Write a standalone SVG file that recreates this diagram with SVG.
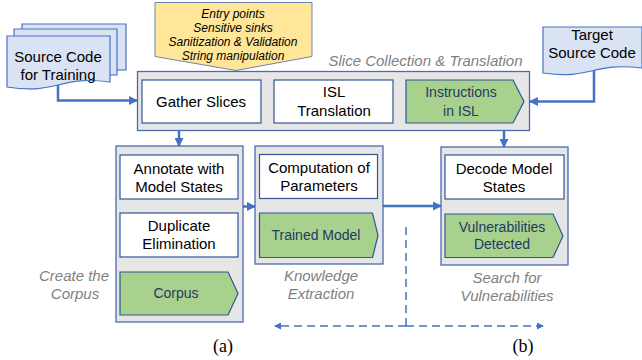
<svg xmlns="http://www.w3.org/2000/svg" width="642" height="360" viewBox="0 0 642 360">
<style>
.doc{fill:#dae3f3;stroke:#4472c4;stroke-width:1.2}
.grp{fill:#e7e6e6;stroke:#4a6bb0;stroke-width:1.3}
.box{fill:#fff;stroke:#2f5597;stroke-width:1.2}
.grn{fill:#a9d18e;stroke:#2f5597;stroke-width:1.2}
.t{font-family:"Liberation Sans",Arial,sans-serif;font-size:15px;fill:#000;text-anchor:middle}
.g{font-family:"Liberation Sans",Arial,sans-serif;font-size:14px;fill:#1f3864;text-anchor:middle}
.lbl{font-family:"Liberation Sans",Arial,sans-serif;font-size:15px;font-style:italic;fill:#7f7f7f;text-anchor:middle}
.y{font-family:"Liberation Sans",Arial,sans-serif;font-size:12px;font-style:italic;fill:#000;text-anchor:middle}
.cap{font-family:"Liberation Serif","Times New Roman",serif;font-size:18px;fill:#000;text-anchor:middle}
.a{fill:none;stroke:#4472c4;stroke-width:2.5;marker-end:url(#ah)}
.d{fill:none;stroke:#4472c4;stroke-width:1.5;stroke-dasharray:8 5}
</style>
<defs>
<marker id="ah" markerUnits="userSpaceOnUse" markerWidth="9" markerHeight="9" refX="8" refY="4.5" orient="auto">
<path d="M0,0 L9,4.5 L0,9 z" fill="#4472c4"/>
</marker>
<marker id="dh" markerUnits="userSpaceOnUse" markerWidth="7" markerHeight="7" refX="6" refY="3.5" orient="auto">
<path d="M0,0 L7,3.5 L0,7 z" fill="#4472c4"/>
</marker>
<marker id="dhs" markerUnits="userSpaceOnUse" markerWidth="7" markerHeight="7" refX="1" refY="3.5" orient="auto">
<path d="M7,0 L0,3.5 L7,7 z" fill="#4472c4"/>
</marker>
</defs>

<g id="connectors">
<path class="a" d="M58,84 V100.5 H137"/>
<path class="a" d="M261,101.5 H274"/>
<path class="a" d="M393,101.5 H406"/>
<path class="a" d="M594,68 V101.5 H530"/>
<path class="a" d="M179,131 V146"/>
<path class="a" d="M504,131 V147"/>
<path class="a" d="M179,199 V213"/>
<path class="a" d="M179,257 V272"/>
<path class="a" d="M243,206.5 H255"/>
<path class="a" d="M318,198.5 V213"/>
<path class="a" d="M383,206 H441"/>
<path class="a" d="M504,199 V214"/>
<path class="d" d="M406,227 V326"/>
<path class="d" d="M406,326 H543" marker-end="url(#dh)"/>
<path class="d" d="M406,326 H275" marker-end="url(#dh)"/>
</g>

<g id="source-training">
<path class="doc" d="M22,24 H126 V70 C78,68 78,84 22,75 Z"/>
<path class="doc" d="M14,29 H117 V75 C69,73 69,89 14,80 Z"/>
<path class="doc" d="M7,36 H110 V82 C58.5,75 58.5,95 7,87 Z"/>
<text class="t" x="58" y="62">Source Code</text>
<text class="t" x="58" y="80">for Training</text>
</g>

<g id="entry-points">
<path d="M155,2.5 H312 V56.5 L236,70.5 L155,56.5 Z" fill="#ffe699" stroke="#6f86b0" stroke-width="1"/>
<text class="y" x="233" y="18">Entry points</text>
<text class="y" x="233" y="32">Sensitive sinks</text>
<text class="y" x="233" y="46">Sanitization &amp; Validation</text>
<text class="y" x="233" y="59.5">String manipulation</text>
</g>

<g id="target-source">
<path class="doc" d="M543,27 H642 V68 C592,62 592,80 543,73 Z"/>
<text class="t" x="592" y="40">Target</text>
<text class="t" x="592" y="58">Source Code</text>
</g>

<g id="slice-collection">
<rect class="grp" x="137.5" y="71.5" width="392" height="59"/>
<text class="lbl" x="425.5" y="66">Slice Collection &amp; Translation</text>
</g>

<g id="gather-slices">
<rect class="box" x="142" y="80" width="119" height="43"/>
<text class="t" x="201" y="106.5">Gather Slices</text>
</g>

<g id="isl-translation">
<rect class="box" x="274" y="80" width="119" height="43"/>
<text class="t" x="334" y="97">ISL</text>
<text class="t" x="334" y="116">Translation</text>
</g>

<g id="instructions-isl">
<path class="grn" d="M406,80 H513 L524,101.5 L513,123 H406 Z"/>
<text class="g" x="461" y="97">Instructions</text>
<text class="g" x="461" y="116">in ISL</text>
</g>

<g id="create-corpus">
<rect class="grp" x="116" y="146" width="127" height="176"/>
<text class="lbl" x="74" y="281">Create the</text>
<text class="lbl" x="75" y="299">Corpus</text>
</g>

<g id="annotate">
<rect class="box" x="120" y="155" width="118" height="44"/>
<text class="t" x="179" y="174">Annotate with</text>
<text class="t" x="179" y="191.5">Model States</text>
</g>

<g id="duplicate">
<rect class="box" x="120" y="213" width="118" height="44"/>
<text class="t" x="179" y="231">Duplicate</text>
<text class="t" x="179" y="249">Elimination</text>
</g>

<g id="corpus">
<path class="grn" d="M120,272 H228 L238,293.5 L228,315 H120 Z"/>
<text class="g" x="176" y="298">Corpus</text>
</g>

<g id="knowledge-extraction">
<rect class="grp" x="255" y="146" width="128" height="118"/>
<text class="lbl" x="321" y="281">Knowledge</text>
<text class="lbl" x="321" y="299">Extraction</text>
</g>

<g id="computation">
<rect class="box" x="259.5" y="154.5" width="118" height="44"/>
<text class="t" x="319" y="173">Computation of</text>
<text class="t" x="319" y="191">Parameters</text>
</g>

<g id="trained-model">
<path class="grn" d="M259.5,213 H372.5 L378,235.5 L372.5,257.5 H259.5 Z"/>
<text class="g" x="316" y="240">Trained Model</text>
</g>

<g id="search-vulnerabilities">
<rect class="grp" x="441" y="147" width="127" height="118"/>
<text class="lbl" x="507" y="283">Search for</text>
<text class="lbl" x="507" y="301">Vulnerabilities</text>
</g>

<g id="decode">
<rect class="box" x="445" y="155" width="119" height="44"/>
<text class="t" x="504" y="174">Decode Model</text>
<text class="t" x="504" y="191.5">States</text>
</g>

<g id="vulnerabilities-detected">
<path class="grn" d="M445,214 H553 L563,236 L553,257.5 H445 Z"/>
<text class="g" x="502" y="231.5">Vulnerabilities</text>
<text class="g" x="502" y="249">Detected</text>
</g>

<text class="cap" x="223" y="352">(a)</text>
<text class="cap" x="523" y="352">(b)</text>
</svg>
